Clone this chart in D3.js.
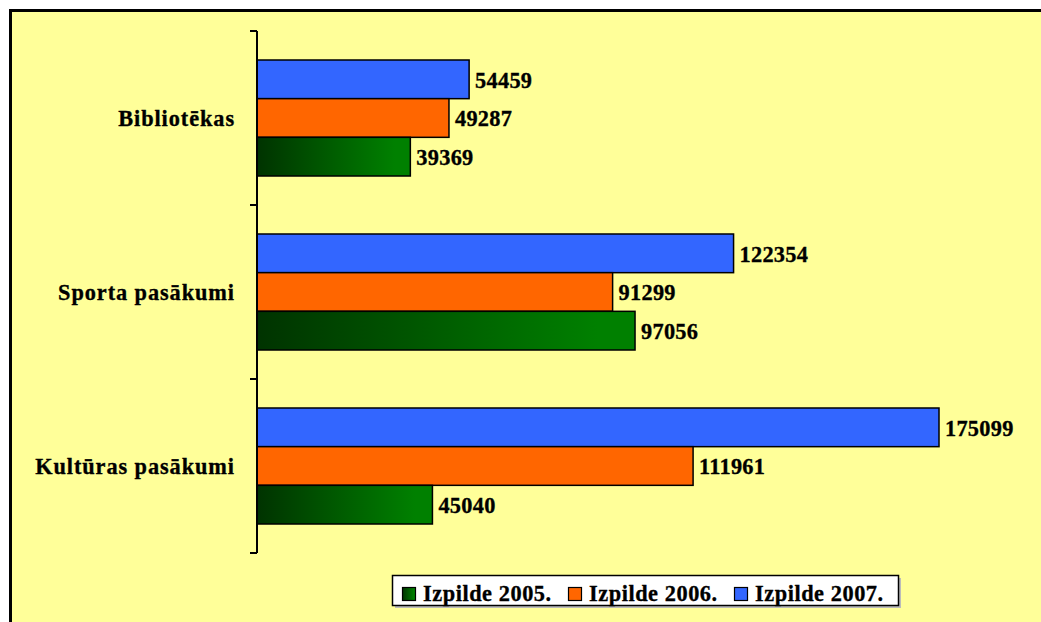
<!DOCTYPE html>
<html>
<head>
<meta charset="utf-8">
<script src="https://cdn.jsdelivr.net/npm/d3@7"></script>
<style>
  html, body { margin: 0; padding: 0; background: #ffffff; }
  svg { display: block; }
  text { font-family: "Liberation Serif", "Times New Roman", serif; font-weight: bold; fill: #000; stroke: #000; stroke-width: 0.35px; }
</style>
</head>
<body>
<svg id="chart" width="1041" height="622"></svg>
<script>
// ---- Data ----
const categories = ["Bibliotēkas", "Sporta pasākumi", "Kultūras pasākumi"];
const seriesNames = ["Izpilde 2005.", "Izpilde 2006.", "Izpilde 2007."];
const values2005 = [39369, 97056, 45040];
const values2006 = [49287, 91299, 111961];
const values2007 = [54459, 122354, 175099];
const seriesValues = [values2005, values2006, values2007];
const seriesColors = ["url(#greenGrad)", "#FF6600", "#3366FF"];

const W = 1041, H = 622;
const FS = 24, SX = 0.93;
const svg = d3.select("#chart");

const defs = svg.append("defs");
const grad = defs.append("linearGradient").attr("id", "greenGrad")
  .attr("x1", "0%").attr("y1", "0%").attr("x2", "100%").attr("y2", "0%");
grad.append("stop").attr("offset", "0%").attr("stop-color", "#003300");
grad.append("stop").attr("offset", "90%").attr("stop-color", "#008000");
grad.append("stop").attr("offset", "100%").attr("stop-color", "#008000");

// background with border
svg.append("rect").attr("x", 0).attr("y", 0).attr("width", W).attr("height", H).attr("fill", "#ffffff");
svg.append("rect").attr("x", 10.5).attr("y", 10.5).attr("width", W + 20).attr("height", H + 20)
  .attr("fill", "#FFFF99").attr("stroke", "#000").attr("stroke-width", 3);

// scales
const x = d3.scaleLinear().domain([0, 200000]).range([257, 1036]);
const y0 = d3.scaleBand().domain(categories).range([31, 553]).padding(0);
const order = [2, 1, 0]; // 2007 on top, then 2006, then 2005
const y1 = d3.scaleBand().domain(order).range([0, y0.bandwidth()]).paddingInner(0).paddingOuter(0.75);

function addText(parent, tx, ty, str, anchor, ls) {
  return parent.append("text")
    .attr("transform", `translate(${tx},${ty}) scale(${SX},1)`)
    .attr("dy", "0.35em")
    .attr("text-anchor", anchor)
    .attr("font-size", FS)
    .attr("letter-spacing", ls)
    .text(str);
}

// bars
const g = svg.append("g");
categories.forEach((cat, ci) => {
  order.forEach(si => {
    const v = seriesValues[si][ci];
    const yy = y0(cat) + y1(si);
    g.append("rect")
      .attr("x", x(0))
      .attr("y", yy)
      .attr("width", x(v) - x(0))
      .attr("height", y1.bandwidth())
      .attr("fill", seriesColors[si])
      .attr("stroke", "#000")
      .attr("stroke-width", 1.5);
    addText(g, x(v) + 6, yy + y1.bandwidth() / 2, v, "start", 0.3);
  });
});

// axis
const axis = d3.axisLeft(y0).tickSize(0).tickPadding(22);
const axG = svg.append("g").attr("transform", `translate(${x(0)},0)`).call(axis);
axG.select(".domain").attr("stroke", "#000").attr("stroke-width", 2)
  .attr("d", `M0,${y0.range()[0]}V${y0.range()[1]}`);
axG.selectAll(".tick text")
  .attr("x", null).attr("dy", "0.35em")
  .attr("transform", `translate(-22,0) scale(${SX},1)`)
  .attr("font-size", FS)
  .attr("font-family", "Liberation Serif, Times New Roman, serif")
  .attr("font-weight", "bold")
  .attr("letter-spacing", 1)
  .attr("fill", "#000");
const boundaries = categories.map(c => y0(c)).concat([y0.range()[1]]);
axG.selectAll(".bnd").data(boundaries).enter().append("line")
  .attr("x1", -7).attr("x2", 0).attr("y1", d => d).attr("y2", d => d)
  .attr("stroke", "#000").attr("stroke-width", 2);

// legend
const lg = svg.append("g");
lg.append("rect").attr("x", 395).attr("y", 578).attr("width", 506).attr("height", 30).attr("fill", "#bbb");
lg.append("rect").attr("x", 392.5).attr("y", 575.5).attr("width", 506).attr("height", 30)
  .attr("fill", "#ffffff").attr("stroke", "#000").attr("stroke-width", 1.5);
seriesNames.forEach((name, i) => {
  const sx = 402 + i * 166;
  lg.append("rect").attr("x", sx + 0.5).attr("y", 587.5).attr("width", 13).attr("height", 13)
    .attr("fill", seriesColors[i]).attr("stroke", "#000").attr("stroke-width", 1.2);
  addText(lg, sx + 21, 593, name, "start", 0.6);
});
</script>
</body>
</html>
